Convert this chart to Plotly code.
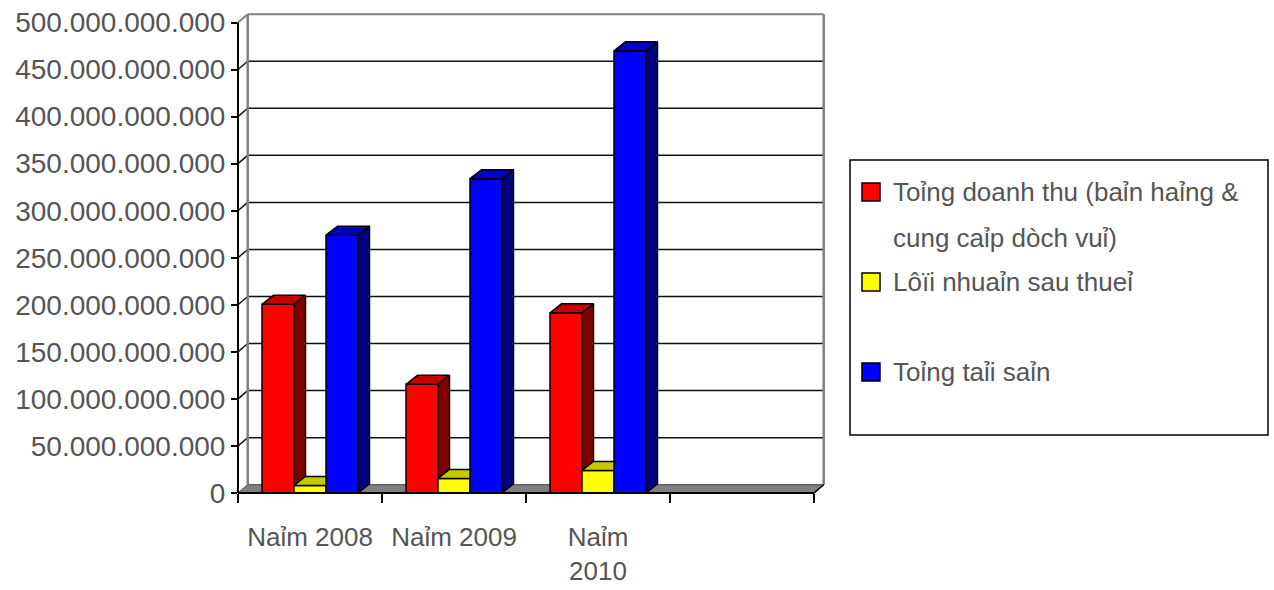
import plotly.graph_objects as go

# ---------------- data ----------------
categories = ["Naỉm 2008", "Naỉm 2009", "Naỉm<br>2010", ""]
series_names = [
    "Toỉng doanh thu (baỉn haỉng &<br>cung caỉp dòch vuỉ)",
    "Lôïi nhuaỉn sau thueỉ",
    "Toỉng taỉi saỉn",
]
revenue = [200.5e9, 115.5e9, 191.5e9]
profit = [8e9, 15.5e9, 24e9]
assets = [274e9, 334e9, 470e9]
y_ticks = [0, 50e9, 100e9, 150e9, 200e9, 250e9, 300e9, 350e9, 400e9, 450e9, 500e9]

front_colors = ["#FF0000", "#FFFF00", "#0000FF"]
top_colors = ["#C80000", "#C8C800", "#0000C8"]
side_colors = ["#800000", "#808000", "#000080"]

series_values = [revenue, profit, assets]

# ---------------- geometry (pixels of the page) ----------------
W, H = 1274, 590
PL, PR, PT, PB = 238, 826, 15, 493          # plot area in pixels
PX_PER_CAT = 144.0
Y500_PX = 22.5
VPP = 500e9 / (PB - Y500_PX)                # value per pixel
X_MIN = -0.5
X_MAX = X_MIN + (PR - PL) / PX_PER_CAT
Y_MAX = (PB - PT) * VPP

WALL_DX = 9.7 / PX_PER_CAT
WALL_DY = 8.3 * VPP
BAR_DX = 11.5 / PX_PER_CAT
BAR_DY = 9.0 * VPP

N_CAT = len(categories)
X_END = X_MIN + N_CAT                      # front right end of the floor

BARGAP = 1.0 / 3.0
BAR_W = (1 - BARGAP) / len(series_values)

FONT = "Liberation Sans, Arial, sans-serif"
TXT = "#555555"


def px_x(x):
    return (x - X_MIN) / (X_MAX - X_MIN)


def px_y(v):
    return v / Y_MAX


def ppx(p):      # page pixel -> paper x
    return (p - PL) / (PR - PL)


def ppy(p):      # page pixel -> paper y
    return (PB - p) / (PB - PT)


fig = go.Figure()

# ---------------- front faces (bars) ----------------
xs = list(range(len(revenue)))
for k, vals in enumerate(series_values):
    fig.add_trace(go.Bar(
        x=xs, y=vals, name=series_names[k],
        marker=dict(color=front_colors[k], line=dict(color="black", width=1.5)),
        showlegend=False, hoverinfo="skip",
    ))

# ---------------- top and side faces (3-D effect) ----------------
for k, vals in enumerate(series_values):
    tx, ty, sx, sy = [], [], [], []
    for c, v in enumerate(vals):
        x0 = c - (1 - BARGAP) / 2 + k * BAR_W
        x1 = x0 + BAR_W
        hn = series_values[k + 1][c] if k + 1 < len(series_values) else 0.0
        # top face (clipped by next bar if it is taller)
        if hn <= v:
            pts = [(x0, v), (x1, v), (x1 + BAR_DX, v + BAR_DY), (x0 + BAR_DX, v + BAR_DY)]
        elif hn >= v + BAR_DY:
            pts = [(x0, v), (x1, v), (x1, v + BAR_DY), (x0 + BAR_DX, v + BAR_DY)]
        else:
            xc = x1 + (v + BAR_DY - hn) / BAR_DY * BAR_DX
            pts = [(x0, v), (x1, v), (x1, hn), (xc, v + BAR_DY), (x0 + BAR_DX, v + BAR_DY)]
        pts.append(pts[0])
        tx += [p[0] for p in pts] + [None]
        ty += [p[1] for p in pts] + [None]
        # side face (visible part above the next bar)
        if hn < v:
            spts = [(x1, hn), (x1, v), (x1 + BAR_DX, v + BAR_DY), (x1 + BAR_DX, hn + BAR_DY), (x1, hn)]
            sx += [p[0] for p in spts] + [None]
            sy += [p[1] for p in spts] + [None]
    fig.add_trace(go.Scatter(x=tx, y=ty, mode="lines", fill="toself",
                             fillcolor=top_colors[k], line=dict(color="black", width=1.5),
                             showlegend=False, hoverinfo="skip"))
    if sx:
        fig.add_trace(go.Scatter(x=sx, y=sy, mode="lines", fill="toself",
                                 fillcolor=side_colors[k], line=dict(color="black", width=1.5),
                                 showlegend=False, hoverinfo="skip"))

# ---------------- walls, floor, gridlines ----------------
shapes = []
# floor
floor_path = "M {},{} L {},{} L {},{} L {},{} Z".format(
    px_x(X_MIN), px_y(0), px_x(X_END), px_y(0),
    px_x(X_END + WALL_DX), px_y(WALL_DY), px_x(X_MIN + WALL_DX), px_y(WALL_DY))
shapes.append(dict(type="path", path=floor_path, xref="paper", yref="paper",
                   fillcolor="#808080", line=dict(color="#404040", width=1), layer="below"))
# gridlines on side + back wall
for t in y_ticks[1:]:
    col = "#808080" if t == y_ticks[-1] else "#111111"
    wid = 2 if t == y_ticks[-1] else 1.5
    shapes.append(dict(type="line", xref="paper", yref="paper",
                       x0=px_x(X_MIN), y0=px_y(t), x1=px_x(X_MIN + WALL_DX), y1=px_y(t + WALL_DY),
                       line=dict(color=col, width=wid), layer="below"))
    shapes.append(dict(type="line", xref="paper", yref="paper",
                       x0=px_x(X_MIN + WALL_DX), y0=px_y(t + WALL_DY),
                       x1=px_x(X_END + WALL_DX), y1=px_y(t + WALL_DY),
                       line=dict(color=col, width=wid), layer="below"))
# wall vertical edges
for xv in (X_MIN + WALL_DX, X_END + WALL_DX):
    shapes.append(dict(type="line", xref="paper", yref="paper",
                       x0=px_x(xv), y0=px_y(WALL_DY), x1=px_x(xv), y1=px_y(y_ticks[-1] + WALL_DY),
                       line=dict(color="#808080", width=2.5), layer="below"))
# front axis lines
shapes.append(dict(type="line", xref="paper", yref="paper",
                   x0=px_x(X_MIN), y0=px_y(0), x1=px_x(X_MIN), y1=px_y(y_ticks[-1]),
                   line=dict(color="black", width=2)))
shapes.append(dict(type="line", xref="paper", yref="paper",
                   x0=px_x(X_MIN), y0=px_y(0), x1=px_x(X_END), y1=px_y(0),
                   line=dict(color="black", width=2)))
shapes.append(dict(type="line", xref="paper", yref="paper",
                   x0=px_x(X_END), y0=px_y(0), x1=px_x(X_END + WALL_DX), y1=px_y(WALL_DY),
                   line=dict(color="black", width=1.5)))

# ---------------- manual legend ----------------
LG_X0, LG_Y0, LG_X1, LG_Y1 = 850, 160, 1268, 435
shapes.append(dict(type="rect", xref="paper", yref="paper",
                   x0=ppx(LG_X0), y0=ppy(LG_Y1), x1=ppx(LG_X1), y1=ppy(LG_Y0),
                   line=dict(color="black", width=1.5), fillcolor="white"))
annotations = []
item_y = [192, 282, 372]
LINE_GAP = 46
for k, name in enumerate(series_names):
    cy = item_y[k]
    shapes.append(dict(type="rect", xref="paper", yref="paper",
                       x0=ppx(862), x1=ppx(880), y0=ppy(cy + 9), y1=ppy(cy - 9),
                       fillcolor=front_colors[k], line=dict(color="black", width=1.5)))
    for j, line in enumerate(name.split("<br>")):
        annotations.append(dict(xref="paper", yref="paper", x=ppx(891), y=ppy(cy + j * LINE_GAP),
                                xanchor="left", yanchor="middle", showarrow=False, text=line,
                                font=dict(family=FONT, size=26, color=TXT)))

fig.update_layout(
    width=W, height=H,
    margin=dict(l=PL, r=W - PR, t=PT, b=H - PB, pad=0, autoexpand=False),
    paper_bgcolor="white", plot_bgcolor="rgba(0,0,0,0)",
    barmode="group", bargap=BARGAP, bargroupgap=0,
    separators=",.",
    showlegend=False,
    shapes=shapes, annotations=annotations,
    font=dict(family=FONT, size=26, color=TXT),
)
fig.update_xaxes(
    range=[X_MIN, X_MAX], tickvals=list(range(N_CAT)), ticktext=categories,
    automargin=False,
    showgrid=False, zeroline=False, showline=False, ticks="",
    tickfont=dict(family=FONT, size=26, color=TXT),
    ticklabelstandoff=26,
    minor=dict(tickvals=[X_MIN + i for i in range(N_CAT + 1)], ticks="outside",
               ticklen=9, tickwidth=2, tickcolor="black", showgrid=False),
)
fig.update_yaxes(
    range=[0, Y_MAX], tickvals=y_ticks, tickformat=",.0f",
    automargin=False,
    showgrid=False, zeroline=False, showline=False,
    ticks="outside", ticklen=6, tickwidth=1.5, tickcolor="black",
    tickfont=dict(family=FONT, size=28, color=TXT),
)

fig.write_html("out.html")
